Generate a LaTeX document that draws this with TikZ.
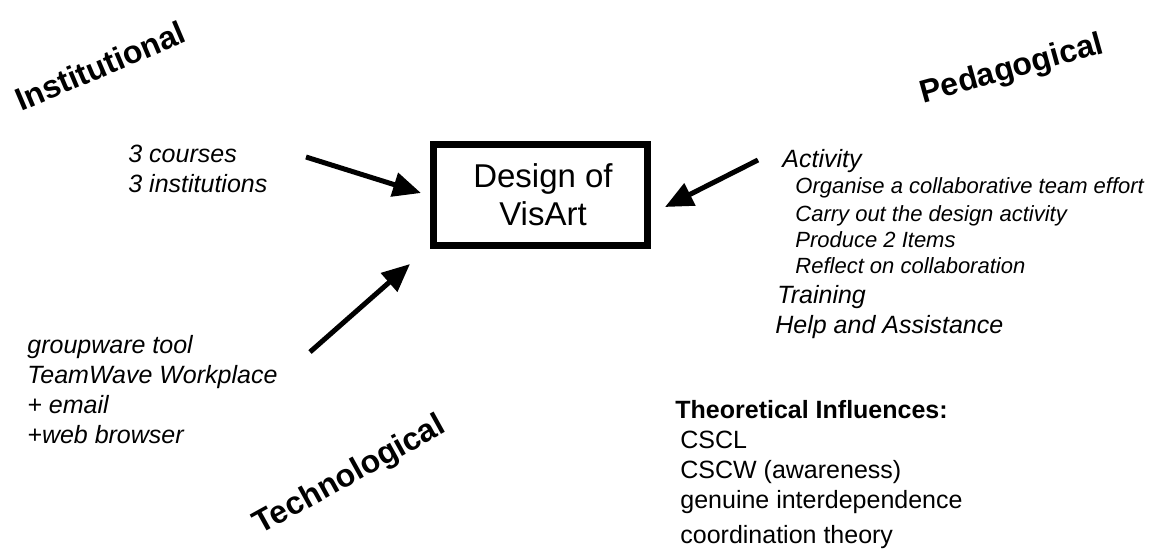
\documentclass[tikz,border=0pt]{standalone}
\usepackage{fontspec}
\setmainfont{Liberation Sans}
\usetikzlibrary{arrows.meta}
\begin{document}
\begin{tikzpicture}[x=0.5pt,y=-0.5pt,
  dim/.style={font=\bfseries\fontsize{16}{19}\selectfont, inner sep=0pt},
  itl/.style={anchor=base west, inner sep=0pt, font=\itshape\fontsize{12.5}{15}\selectfont},
  its/.style={anchor=base west, inner sep=0pt, font=\itshape\fontsize{11}{13}\selectfont},
  upr/.style={anchor=base west, inner sep=0pt, font=\fontsize{12.5}{15}\selectfont},
  mainbox/.style={draw, line width=3.5pt, minimum width=107pt, minimum height=50.5pt, inner sep=0pt},
  bigarrow/.style={line width=2.5pt, -{Triangle[length=14pt,width=12pt]}}]
\useasboundingbox (0,0) rectangle (1152,553);
\node[mainbox] (box) at (540.5,195) {};
\node[anchor=base, inner sep=0pt, font=\fontsize{16.5}{19}\selectfont] (d1) at (543,187) {Design of};
\node[anchor=base, inner sep=0pt, font=\fontsize{16.5}{19}\selectfont] (d2) at (543,225) {VisArt};
% dimension labels
\node[dim, rotate=23] (inst) at (100,66) {Institutional};
\node[dim, rotate=15.5] (ped) at (1012,70) {Pedagogical};
\node[dim, rotate=29] (tech) at (350,476) {Technological};
% institutional
\node[itl] (c1) at (128,162) {3 courses};
\node[itl] (c2) at (128,192) {3 institutions};
% pedagogical
\node[itl] (p1) at (782,167) {Activity};
\node[its] (p2) at (795,193) {Organise a collaborative team effort};
\node[its] (p3) at (795,221) {Carry out the design activity};
\node[its] (p4) at (795,247) {Produce 2 Items};
\node[its] (p5) at (795,273) {Reflect on collaboration};
\node[itl] (p6) at (777,303) {Training};
\node[itl] (p7) at (775,333) {Help and Assistance};
% technological
\node[itl] (t1) at (27,353) {groupware tool};
\node[itl] (t2) at (27,383) {TeamWave Workplace};
\node[itl] (t3) at (27,413) {+ email};
\node[itl] (t4) at (27,443) {+web browser};
% theoretical
\node[upr, font=\bfseries\fontsize{12.5}{15}\selectfont] (th) at (675,418) {Theoretical Influences:};
\node[upr] (th1) at (680,448) {CSCL};
\node[upr] (th2) at (680,478) {CSCW (awareness)};
\node[upr] (th3) at (680,508) {genuine interdependence};
\node[upr] (th4) at (680,543) {coordination theory};
% arrows
\coordinate (a1s) at (306,157);
\coordinate (a1e) at (421,193);
\coordinate (a2s) at (758,160);
\coordinate (a2e) at (665,207);
\coordinate (a3s) at (310,352);
\coordinate (a3e) at (410,264);
\draw[bigarrow] (a1s) -- (a1e);
\draw[bigarrow] (a2s) -- (a2e);
\draw[bigarrow] (a3s) -- (a3e);
\end{tikzpicture}
\end{document}
